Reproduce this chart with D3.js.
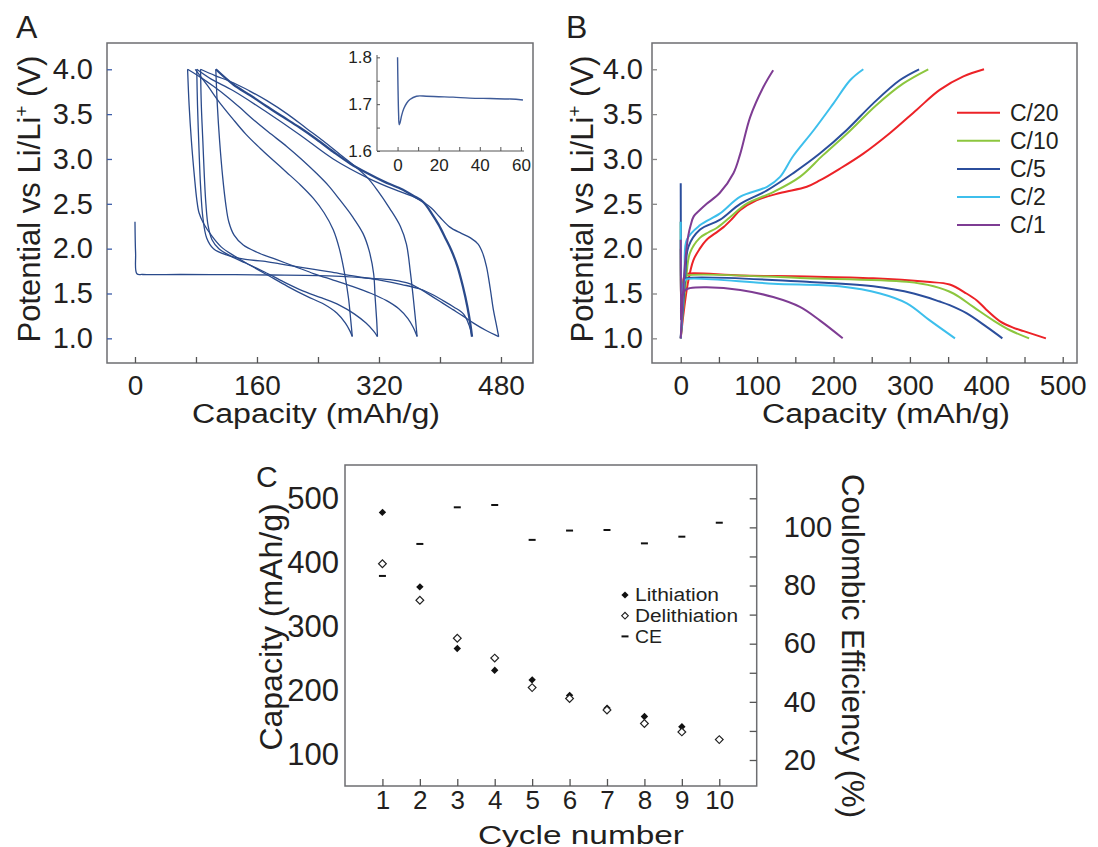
<!DOCTYPE html>
<html>
<head>
<meta charset="utf-8">
<script src="https://cdn.jsdelivr.net/npm/d3@7"></script>
<style>
  body { margin: 0; background: #fff; }
  text { font-family: "Liberation Sans", Arial, sans-serif; fill: #231f20; }
</style>
</head>
<body>
<svg id="fig" width="1098" height="847"></svg>
<script>
// ---------- panel A : galvanostatic cycles (capacity mAh/g, potential V) ----------
const lith1 = [[0,2.30],[0.8,1.95],[2.5,1.72],[10,1.712],[60,1.712],[120,1.71],[180,1.706],[240,1.70],[270,1.69],[304,1.672],[339,1.65],[360,1.61],[376,1.54],[391,1.46],[404,1.39],[417,1.32],[430,1.25],[444,1.17],[460,1.09],[477,1.02]];
const charge1 = [[477,1.02],[474,1.15],[470,1.32],[466,1.55],[461,1.80],[456,1.95],[450,2.05],[440,2.12],[428,2.17],[413,2.24],[400,2.35],[389,2.45],[378,2.52],[365,2.58],[340,2.66],[305,2.79],[260,3.0],[216,3.27],[173,3.52],[129,3.76],[100,3.89],[81,4.0]];
const lith2 = [[81,4.0],[82,3.6],[84,3.1],[86,2.7],[89,2.35],[94,2.12],[103,2.0],[120,1.93],[145,1.88],[168,1.86],[190,1.83],[212,1.80],[235,1.77],[256,1.74],[290,1.69],[321,1.65],[350,1.60],[374,1.55],[392,1.48],[404,1.42],[418,1.35],[431,1.27],[438,1.15],[442,1.02]];
const charge2 = [[442,1.02],[440,1.15],[436,1.35],[430,1.58],[423,1.80],[415,1.98],[407,2.12],[398,2.27],[390,2.38],[378,2.52],[365,2.59],[348,2.67],[326,2.75],[305,2.84],[282,2.95],[260,3.08],[238,3.22],[216,3.35],[194,3.47],[172,3.59],[151,3.71],[129,3.83],[106,4.0]];
const lith3 = [[106,4.0],[108,3.6],[111,3.2],[115,2.8],[119,2.5],[123,2.3],[130,2.15],[142,2.04],[160,1.96],[185,1.88],[210,1.80],[235,1.72],[260,1.65],[285,1.58],[310,1.50],[330,1.42],[346,1.33],[358,1.22],[365,1.12],[370,1.02]];
const charge3 = [[370,1.02],[368,1.2],[365,1.45],[361,1.75],[356,2.05],[348,2.25],[334,2.45],[318,2.65],[304,2.80],[287,2.93],[269,3.05],[247,3.20],[225,3.34],[200,3.50],[173,3.65],[150,3.76],[129,3.85],[105,3.93],[86,4.0]];
const lith4 = [[86,4.0],[87,3.6],[89,3.2],[91,2.8],[93,2.5],[96,2.25],[101,2.1],[110,2.0],[125,1.92],[145,1.84],[170,1.74],[195,1.63],[220,1.53],[245,1.45],[268,1.37],[288,1.27],[303,1.17],[313,1.08],[318,1.02]];
const charge4 = [[318,1.02],[317,1.2],[315,1.45],[313,1.72],[307,1.98],[299,2.17],[285,2.36],[269,2.54],[254,2.70],[238,2.84],[218,3.0],[199,3.14],[175,3.30],[155,3.44],[138,3.57],[120,3.70],[103,3.81],[86,3.91],[69,4.0]];
const lith5 = [[69,4.0],[71,3.6],[74,3.2],[78,2.8],[81,2.55],[84,2.4],[90,2.28],[100,2.15],[113,2.02],[130,1.92],[150,1.82],[175,1.70],[200,1.58],[225,1.47],[248,1.38],[265,1.28],[276,1.17],[282,1.08],[285,1.02]];
const charge5 = [[285,1.02],[283,1.2],[280,1.45],[275,1.72],[268,2.0],[260,2.21],[248,2.40],[234,2.56],[217,2.71],[199,2.85],[182,2.98],[164,3.12],[145,3.28],[128,3.45],[110,3.64],[95,3.82],[79,4.0]];
const aTicksX = [0, 80, 160, 240, 320, 400, 480];
const aTicksY = [1.0, 1.5, 2.0, 2.5, 3.0, 3.5, 4.0];

// inset of panel A (first lithiation start)
const insetCap = [0, 0.2, 0.5, 0.8, 1.2, 2, 3, 4.4, 6, 9.2, 14, 20, 27, 35, 45, 55, 61];
const insetV = [1.80, 1.74, 1.68, 1.656, 1.66, 1.676, 1.69, 1.702, 1.71, 1.717, 1.717, 1.716, 1.715, 1.713, 1.712, 1.711, 1.709];
const insetTicksX = [0, 10, 20, 30, 40, 50, 60];
const insetTicksY = [1.6, 1.65, 1.7, 1.75, 1.8];

// ---------- panel B : rate capability ----------
const rates = ["C/20", "C/10", "C/5", "C/2", "C/1"];
const rateColors = ["#ec2227", "#8cc63e", "#2b4e9c", "#3dbfec", "#7e3c93"];
const dis20 = [[0,2.0],[0.5,1.3],[2,1.55],[5,1.70],[8,1.72],[78,1.70],[165,1.69],[252,1.67],[322,1.63],[352,1.60],[374,1.50],[388,1.42],[400,1.32],[418,1.19],[435,1.12],[449,1.08],[478,1.0]];
const dis10 = [[0,2.3],[0.5,1.25],[2,1.55],[5,1.68],[8,1.70],[165,1.67],[296,1.63],[331,1.58],[357,1.50],[383,1.35],[409,1.20],[431,1.09],[456,1.0]];
const dis5 = [[0,2.73],[0.3,1.8],[0.8,1.2],[2,1.5],[5,1.65],[8,1.67],[165,1.63],[252,1.58],[305,1.50],[339,1.41],[352,1.37],[374,1.28],[400,1.13],[421,1.0]];
const dis2 = [[0,2.3],[0.5,1.3],[2,1.5],[5,1.64],[8,1.66],[121,1.61],[208,1.58],[261,1.50],[296,1.39],[326,1.20],[359,1.0]];
const dis1 = [[0,2.1],[0.5,1.2],[1.3,1.46],[6,1.54],[12,1.56],[34,1.57],[78,1.54],[121,1.46],[156,1.35],[182,1.20],[212,1.0]];
const chg20 = [[0,1.0],[4,1.3],[9,1.6],[16.5,1.87],[25,2.0],[34,2.10],[45,2.17],[56,2.24],[67,2.33],[78,2.43],[99,2.54],[130,2.62],[165,2.69],[182,2.76],[208,2.89],[239,3.06],[274,3.29],[309,3.55],[339,3.77],[370,3.92],[397,4.0]];
const chg10 = [[0,1.0],[3,1.3],[7,1.65],[12,1.95],[25,2.12],[36,2.18],[47,2.23],[64.5,2.35],[86,2.50],[121,2.63],[156,2.80],[186,3.04],[221,3.31],[256,3.60],[291,3.84],[324,4.0]];
const chg5 = [[0,1.0],[3,1.35],[6,1.7],[10,2.02],[25,2.21],[51,2.32],[78,2.50],[113,2.65],[147,2.84],[182,3.06],[217,3.32],[252,3.62],[287,3.88],[312,4.0]];
const chg2 = [[0,1.0],[2.5,1.4],[5,1.75],[8,2.1],[25,2.26],[51,2.39],[78,2.58],[113,2.69],[130,2.80],[147,3.03],[174,3.32],[200,3.62],[222,3.88],[239,4.0]];
const chg1 = [[0,1.0],[3,1.5],[6,1.87],[10,2.15],[13,2.26],[17,2.36],[25,2.43],[34,2.50],[51,2.62],[69,2.84],[78,3.06],[91,3.47],[108,3.80],[121,3.99]];
const bTicksX = [0, 50, 100, 150, 200, 250, 300, 350, 400, 450, 500];

// ---------- panel C : cycling ----------
const cycles = [1, 2, 3, 4, 5, 6, 7, 8, 9, 10];
const lithiation = [478, 362, 266, 232, 217, 193, 173, 160, 144, 124];
const delithiation = [398, 341, 282, 251, 205, 188, 170, 149, 136, 124];
const ce = [83.3, 94.3, 106.9, 107.7, 95.7, 98.9, 99.1, 94.5, 96.8, 101.6];
const cTicksY = [100, 200, 300, 400, 500];
const ceTicksLabel = [20, 40, 60, 80, 100];
const ceTicks = [20, 30, 40, 50, 60, 70, 80, 90, 100, 110];
const cLegend = ["Lithiation", "Delithiation", "CE"];
const cLegendWidth = [84, 103, 27];

const svg = d3.select("#fig");
const ink = "#231f20";
const frameCol = "#6d6e71";

function frame(x0, y0, x1, y1) {
  svg.append("rect")
    .attr("x", x0).attr("y", y0)
    .attr("width", x1 - x0).attr("height", y1 - y0)
    .attr("fill", "none").attr("stroke", frameCol).attr("stroke-width", 1.5);
}

function styleAxis(g, tickCol, size) {
  g.attr("font-family", null).attr("font-size", null);
  g.select(".domain").remove();
  g.selectAll(".tick line").attr("stroke", tickCol).attr("stroke-width", 1.3);
  g.selectAll(".tick text").attr("fill", ink).style("font-size", size + "px");
}

function label(x, y, txt, size) {
  svg.append("text").attr("x", x).attr("y", y).style("font-size", size + "px").text(txt);
}

// wide x titles: height from the font size, width from textLength
function xTitle(x, y, txt, size, len) {
  svg.append("text").attr("x", x).attr("y", y).attr("text-anchor", "middle")
    .attr("textLength", len).attr("lengthAdjust", "spacingAndGlyphs")
    .style("font-size", size + "px").text(txt);
}

function yTitleLi(x, y, size) {
  const t = svg.append("text")
    .attr("transform", "translate(" + x + "," + y + ") rotate(-90)")
    .attr("text-anchor", "middle")
    .style("font-size", size + "px");
  t.append("tspan").text("Potential vs Li/Li");
  t.append("tspan").attr("dy", -size * 0.38).style("font-size", (size * 0.62) + "px").text("+");
  t.append("tspan").attr("dy", size * 0.38).text(" (V)");
}

////////// panel A //////////
const xA = d3.scaleLinear().domain([-36.7, 522]).range([107, 533]);
const yA = d3.scaleLinear().domain([0.725, 4.293]).range([363, 43]);
const lineA = d3.line()
  .x(d => xA(d[0])).y(d => yA(d[1]))
  .curve(d3.curveCatmullRom.alpha(0.5));

const aCurves = [lith1, charge1, lith2, charge2, lith3, charge3, lith4, charge4, lith5, charge5];
svg.append("g").selectAll("path")
  .data(aCurves)
  .enter().append("path")
  .attr("d", lineA)
  .attr("fill", "none")
  .attr("stroke", "#2a4a8b")
  .attr("stroke-width", (d, i) => i === 3 ? 2.3 : 1.3)
  .attr("stroke-linejoin", "round");

frame(107, 43, 533, 363);

styleAxis(svg.append("g")
  .attr("transform", "translate(107,0)")
  .call(d3.axisLeft(yA).tickValues(aTicksY).tickSize(-5).tickPadding(14).tickFormat(d3.format(".1f"))),
  "#3b5ca8", 29);

styleAxis(svg.append("g")
  .attr("transform", "translate(0,363)")
  .call(d3.axisBottom(xA).tickValues(aTicksX).tickSize(-6).tickPadding(12)
    .tickFormat(d => d % 160 === 0 ? d : "")),
  "#555", 28);

// inset
const xI = d3.scaleLinear().domain([-10, 61.5]).range([377, 524]);
const yI = d3.scaleLinear().domain([1.6, 1.805]).range([151, 55]);
svg.append("path")
  .datum(insetCap.map((c, i) => [c, insetV[i]]))
  .attr("d", d3.line().x(d => xI(d[0])).y(d => yI(d[1])).curve(d3.curveCatmullRom.alpha(0.5)))
  .attr("fill", "none").attr("stroke", "#3d5a98").attr("stroke-width", 1.4);

const gIy = svg.append("g").attr("transform", "translate(377,0)")
  .call(d3.axisLeft(yI).tickValues(insetTicksY).tickSize(-3).tickPadding(5)
    .tickFormat(d => [1.6, 1.7, 1.8].includes(d) ? d.toFixed(1) : ""));
gIy.attr("font-family", null).attr("font-size", null);
gIy.select(".domain").attr("stroke", "#555").attr("d", "M0,151V55");
gIy.selectAll(".tick line").attr("stroke", "#555");
gIy.selectAll(".tick text").style("font-size", "17px");

const gIx = svg.append("g").attr("transform", "translate(0,151)")
  .call(d3.axisBottom(xI).tickValues(insetTicksX).tickSize(-4).tickPadding(8)
    .tickFormat(d => d % 20 === 0 ? d : ""));
gIx.attr("font-family", null).attr("font-size", null);
gIx.select(".domain").attr("stroke", "#555").attr("d", "M377,0H524");
gIx.selectAll(".tick line").attr("stroke", "#555");
gIx.selectAll(".tick text").style("font-size", "17px");

label(16, 38, "A", 32);
yTitleLi(40, 199, 31);
xTitle(316, 423, "Capacity (mAh/g)", 27, 248);

////////// panel B //////////
const xB = d3.scaleLinear().domain([-37.6, 518.7]).range([652, 1077]);
const yB = d3.scaleLinear().domain([0.725, 4.293]).range([363, 43]);
const lineB = d3.line()
  .x(d => xB(d[0])).y(d => yB(d[1]))
  .curve(d3.curveCatmullRom.alpha(0.5));

const bSeries = [
  { dis: dis20, chg: chg20 },
  { dis: dis10, chg: chg10 },
  { dis: dis5, chg: chg5 },
  { dis: dis2, chg: chg2 },
  { dis: dis1, chg: chg1 }
];
const bPaths = [];
bSeries.forEach((s, i) => {
  bPaths.push({ pts: s.dis, col: rateColors[i] });
  bPaths.push({ pts: s.chg, col: rateColors[i] });
});
svg.append("g").selectAll("path")
  .data(bPaths)
  .enter().append("path")
  .attr("d", d => lineB(d.pts))
  .attr("fill", "none")
  .attr("stroke", d => d.col)
  .attr("stroke-width", 2)
  .attr("stroke-linejoin", "round");

frame(652, 43, 1077, 363);

styleAxis(svg.append("g")
  .attr("transform", "translate(652,0)")
  .call(d3.axisLeft(yB).tickValues(aTicksY).tickSize(-5).tickPadding(9).tickFormat(d3.format(".1f"))),
  "#888", 29);

styleAxis(svg.append("g")
  .attr("transform", "translate(0,363)")
  .call(d3.axisBottom(xB).tickValues(bTicksX).tickSize(-6).tickPadding(12)
    .tickFormat(d => d % 100 === 0 ? d : "")),
  "#555", 28);

// legend
const legB = svg.append("g").selectAll("g")
  .data(rates)
  .enter().append("g")
  .attr("transform", (d, i) => "translate(957," + (112.7 + i * 28.1) + ")");
legB.append("line").attr("x1", 0).attr("x2", 43)
  .attr("stroke", (d, i) => rateColors[i]).attr("stroke-width", 2);
legB.append("text").attr("x", 53).attr("dy", "0.36em")
  .style("font-size", "23px").text(d => d);

label(566, 38, "B", 32);
yTitleLi(593, 199, 31);
xTitle(886, 423, "Capacity (mAh/g)", 27, 248);

////////// panel C //////////
const xC = d3.scaleLinear().domain([0, 11]).range([345, 756.7]);
const yC = d3.scaleLinear().domain([51.7, 551.9]).range([786, 465]);
const yCE = d3.scaleLinear().domain([11.06, 121.45]).range([786, 465]);

frame(345, 465, 756.7, 786);

styleAxis(svg.append("g")
  .attr("transform", "translate(0,786)")
  .call(d3.axisBottom(xC).tickValues(cycles).tickSize(-7).tickPadding(5)),
  "#555", 26);

styleAxis(svg.append("g")
  .attr("transform", "translate(345,0)")
  .call(d3.axisLeft(yC).tickValues(cTicksY).tickSize(0).tickPadding(6)),
  "#555", 31);

const gCE = svg.append("g")
  .attr("transform", "translate(756.7,0)")
  .call(d3.axisRight(yCE).tickValues(ceTicks).tickSize(-7).tickPadding(27)
    .tickFormat(d => ceTicksLabel.includes(d) ? d : ""));
styleAxis(gCE, "#555", 29);

const diamond = d3.symbol().type(d3.symbolSquare).size(26)();
const diamondOpen = d3.symbol().type(d3.symbolSquare).size(30)();
const dash = "M-3.5,-1H3.5V1H-3.5Z";

svg.append("g").selectAll("path")
  .data(cycles)
  .enter().append("path")
  .attr("d", diamond)
  .attr("transform", (d, i) => "translate(" + xC(d) + "," + yC(lithiation[i]) + ") rotate(45) scale(1,1.05)")
  .attr("fill", "#111");

svg.append("g").selectAll("path")
  .data(cycles)
  .enter().append("path")
  .attr("d", diamondOpen)
  .attr("transform", (d, i) => "translate(" + xC(d) + "," + yC(delithiation[i]) + ") rotate(45)")
  .attr("fill", "#fff").attr("stroke", "#222").attr("stroke-width", 1.2);

svg.append("g").selectAll("path")
  .data(cycles)
  .enter().append("path")
  .attr("d", dash)
  .attr("transform", (d, i) => "translate(" + xC(d) + "," + yCE(ce[i]) + ")")
  .attr("fill", "#111");

// legend C
const legC = svg.append("g").attr("transform", "translate(625,595)");
legC.append("path").attr("d", diamond).attr("transform", "rotate(45)").attr("fill", "#111");
legC.append("path").attr("d", d3.symbol().type(d3.symbolSquare).size(22)())
  .attr("transform", "translate(0,20.7) rotate(45)")
  .attr("fill", "#fff").attr("stroke", "#222").attr("stroke-width", 1.1);
legC.append("path").attr("d", dash).attr("transform", "translate(0,41.4)").attr("fill", "#111");
legC.selectAll("text")
  .data(cLegend)
  .enter().append("text")
  .attr("x", 10).attr("y", (d, i) => i * 20.7).attr("dy", "0.36em")
  .attr("textLength", (d, i) => cLegendWidth[i]).attr("lengthAdjust", "spacingAndGlyphs")
  .style("font-size", "18px").text(d => d);

label(256, 487, "C", 30);
svg.append("text")
  .attr("transform", "translate(282,627) rotate(-90)")
  .attr("text-anchor", "middle").style("font-size", "32px")
  .text("Capacity (mAh/g)");
svg.append("text")
  .attr("transform", "translate(842,646) rotate(90)")
  .attr("text-anchor", "middle").style("font-size", "31px")
  .text("Coulombic Efficiency (%)");
xTitle(581, 844, "Cycle number", 25, 206);
</script>
</body>
</html>
